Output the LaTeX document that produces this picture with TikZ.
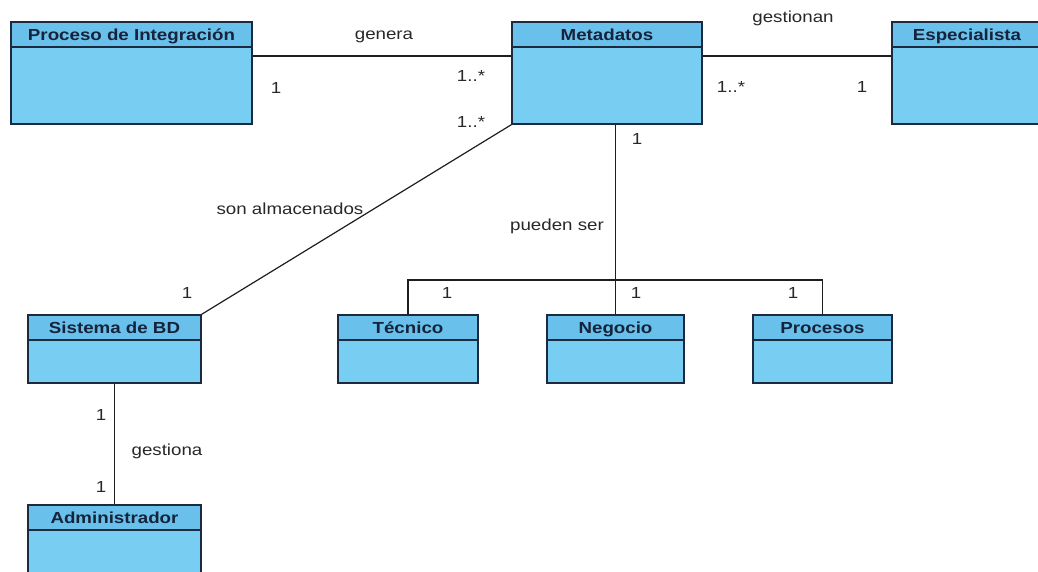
\documentclass[tikz,border=0pt]{standalone}
\usepackage{fontspec}
\newfontfamily\umlfont[FakeStretch=1.17]{Liberation Sans}
\usetikzlibrary{calc}

\definecolor{headblue}{RGB}{104,192,235}
\definecolor{bodyblue}{RGB}{120,205,243}
\definecolor{edgenavy}{RGB}{28,42,64}
\definecolor{titlenavy}{RGB}{22,35,58}
\definecolor{labelgray}{RGB}{40,40,40}
\definecolor{linegray}{RGB}{30,30,30}

\tikzset{
  classbody/.style={draw=edgenavy, fill=bodyblue, line width=1.5pt, rectangle, inner sep=0pt},
  classhead/.style={draw=edgenavy, fill=headblue, line width=1.5pt},
  classtitle/.style={font=\umlfont\bfseries\fontsize{16}{18}\selectfont, text=titlenavy, anchor=base, inner sep=0pt},
  assoclabel/.style={font=\umlfont\fontsize{16}{18}\selectfont, text=labelgray, inner sep=0pt},
  assoc/.style={draw=linegray, line width=1.2pt},
}

% class box: name, left, top, right, bottom, title (header band 25 units tall)
\newcommand\umlclass[6]{%
  \node[classbody, minimum width={#4-#2}, minimum height={#5-#3}] (#1) at ({(#2+#4)/2},{(#3+#5)/2}) {};
  \filldraw[classhead] (#2,#3) rectangle (#4,#3+25);
  \node[classtitle] (#1-title) at ({(#2+#4)/2},#3+18.5) {#6};
}

\begin{document}
\begin{tikzpicture}[x=1pt, y=-1pt]
  \useasboundingbox (0,0) rectangle (1038,572);

  % classes
  \umlclass{proc}{11}{22}{252}{124}{Proceso de Integración}
  \umlclass{meta}{512}{22}{702}{124}{Metadatos}
  \umlclass{esp}{892}{22}{1042}{124}{Especialista}
  \umlclass{sis}{28}{315}{201}{383}{Sistema de BD}
  \umlclass{tec}{338}{315}{478}{383}{Técnico}
  \umlclass{neg}{547}{315}{684}{383}{Negocio}
  \umlclass{pro}{753}{315}{892}{383}{Procesos}
  \umlclass{adm}{28}{505}{201}{574}{Administrador}

  % helper rows for the straight associations
  \coordinate (topline) at (0,56);
  \coordinate (bus) at (0,280);

  % associations
  \draw[assoc] (proc.east |- topline) -- (meta.west |- topline);
  \draw[assoc] (meta.east |- topline) -- (esp.west |- topline);
  \draw[assoc] (meta.south west) -- (sis.north east);
  \draw[assoc] (neg.north |- meta.south) -- (neg.north);
  \draw[assoc] (tec.north) -- (tec.north |- bus) -- (pro.north |- bus) -- (pro.north);
  \draw[assoc] (sis.south) -- (adm.north);

  % association names and multiplicities
  \node[assoclabel] (lgenera) at (384,37) {genera};
  \node[assoclabel] (lgestionan) at (793,18) {gestionan};
  \node[assoclabel] (m1) at (276,88) {1};
  \node[assoclabel] (m2) at (471,76) {1..*};
  \node[assoclabel] (m3) at (731,87) {1..*};
  \node[assoclabel] (m4) at (862,87) {1};
  \node[assoclabel] (m5) at (471,122) {1..*};
  \node[assoclabel] (m6) at (637,139) {1};
  \node[assoclabel] (lson) at (290,209) {son almacenados};
  \node[assoclabel] (lpueden) at (557,226) {pueden ser};
  \node[assoclabel] (m7) at (187,293) {1};
  \node[assoclabel] (m8) at (447,293) {1};
  \node[assoclabel] (m9) at (636,293) {1};
  \node[assoclabel] (m10) at (793,293) {1};
  \node[assoclabel] (m11) at (101,415) {1};
  \node[assoclabel] (lgestiona) at (167,451) {gestiona};
  \node[assoclabel] (m12) at (101,487) {1};
\end{tikzpicture}
\end{document}
